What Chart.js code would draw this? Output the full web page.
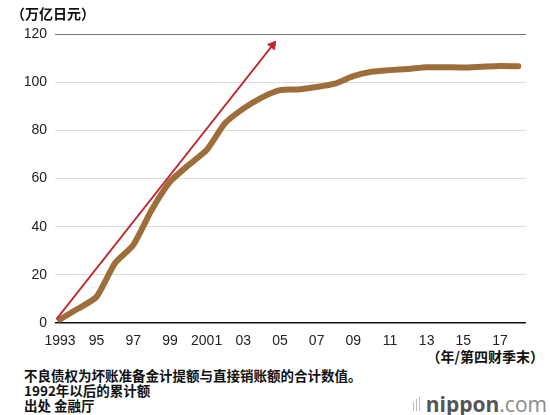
<!DOCTYPE html>
<html>
<head>
<meta charset="utf-8">
<script src="https://cdn.jsdelivr.net/npm/chart.js@4/dist/chart.umd.min.js"></script>
<style>
  body { margin: 0; background: #fff; }
  #wrap { position: relative; width: 550px; height: 415px; overflow: hidden; font-family: "Noto Sans CJK SC", "Noto Sans", sans-serif; color: #111; }
  #myChart { position: absolute; left: 0; top: 0; }
  .txt { position: absolute; white-space: nowrap; }
  #unit { left: 11px; top: 3px; font-size: 14px; font-weight: bold; }
  #xunit { right: 6px; top: 346px; font-size: 14px; font-weight: bold; }
  .note { left: 24px; font-size: 13.5px; font-weight: bold; line-height: 15px; }
  #logo { right: 3px; top: 389px; font-family: "Open Sans", "Noto Sans", sans-serif; font-size: 21px; color: #555; }
  #logo b { font-weight: bold; }
  #logo span.com { color: #8a8a8a; font-weight: normal; }
  #logo .bars { display: inline-block; margin-right: 4px; vertical-align: 1px; }
  #logo .bars i { display: inline-block; width: 1.5px; background: #bbb; margin-right: 1.5px; }
</style>
</head>
<body>
<div id="wrap">
  <canvas id="myChart" width="550" height="345"></canvas>
  <div class="txt" id="unit">（万亿日元）</div>
  <div class="txt" id="xunit">（年/第四财季末）</div>
  <div class="txt note" style="top:368px">不良债权为坏账准备金计提额与直接销账额的合计数值。</div>
  <div class="txt note" style="top:383px">1992年以后的累计额</div>
  <div class="txt note" style="top:398px">出处 金融厅</div>
  <div class="txt" id="logo"><span class="bars"><i style="height:9px"></i><i style="height:12px"></i><i style="height:14px"></i></span><b>nippon</b><span class="com">.com</span></div>
</div>
<script>
// lata (koniec IV kwartału fiskalnego)
const years = [1993, 1994, 1995, 1996, 1997, 1998, 1999, 2000, 2001, 2002, 2003, 2004, 2005,
  2006, 2007, 2008, 2009, 2010, 2011, 2012, 2013, 2014, 2015, 2016, 2017, 2018];
// skumulowane odpisy, bln jenów
const badLoans = [1.5, 6, 10.9, 24.8, 32.4, 46.9, 58.6, 65.5, 71.8, 82.9, 89, 93.6, 96.7,
  97, 98, 99.4, 102.5, 104.3, 105, 105.5, 106.2, 106.2, 106.1, 106.4, 106.7, 106.6];
// strzałka trendu
const arrowX = [1992.8, 2004.6];
const arrowY = [1.5, 115.4];
const xTicks = [1993, 1995, 1997, 1999, 2001, 2003, 2005, 2007, 2009, 2011, 2013, 2015, 2017];
const yTicks = [0, 20, 40, 60, 80, 100, 120];

function yearLabel(y) {
  if (y === 1993 || y === 2001) return String(y);
  return String(y % 100).padStart(2, '0');
}

const ctx = document.getElementById('myChart');
const tickFont = { family: '"Liberation Sans", Arial, sans-serif', size: 14 };

new Chart(ctx, {
  type: 'line',
  data: {
    datasets: [{
      data: years.map((y, i) => ({ x: y, y: badLoans[i] })),
      borderColor: '#9e6e3a',
      borderWidth: 6,
      borderCapStyle: 'round',
      borderJoinStyle: 'round',
      tension: 0.2,
      pointRadius: 0,
      order: 2
    }, {
      data: arrowX.map((x, i) => ({ x: x, y: arrowY[i] })),
      borderColor: '#c1272d',
      backgroundColor: '#c1272d',
      borderWidth: 1.8,
      pointStyle: 'triangle',
      pointRadius: [0, 5],
      pointRotation: 38,
      pointBorderWidth: 1,
      order: 1
    }]
  },
  options: {
    responsive: false,
    animation: false,
    layout: { padding: { top: 34, left: 0, right: 24, bottom: 0 } },
    plugins: { legend: { display: false }, tooltip: { enabled: false } },
    scales: {
      x: {
        type: 'linear',
        min: 1992.73,
        max: 2018.42,
        afterBuildTicks: (s) => { s.ticks = xTicks.map(v => ({ value: v })); },
        afterFit: (s) => { s.height = 22; },
        grid: { display: false },
        border: { display: false },
        ticks: { color: '#222', font: tickFont, padding: 2, maxRotation: 0, autoSkip: false, callback: (v) => yearLabel(v) }
      },
      y: {
        min: 0,
        max: 120,
        afterBuildTicks: (s) => { s.ticks = yTicks.map(v => ({ value: v })); },
        afterFit: (s) => { s.width = 55; },
        border: { display: false },
        grid: {
          drawTicks: false,
          color: (c) => c.tick.value === 0 ? '#111' : (c.tick.value === 120 ? '#777' : '#dcdcdc'),
          lineWidth: (c) => c.tick.value === 0 ? 1.6 : 1
        },
        ticks: { color: '#222', font: tickFont, padding: 8 }
      }
    }
  }
});
</script>
</body>
</html>
